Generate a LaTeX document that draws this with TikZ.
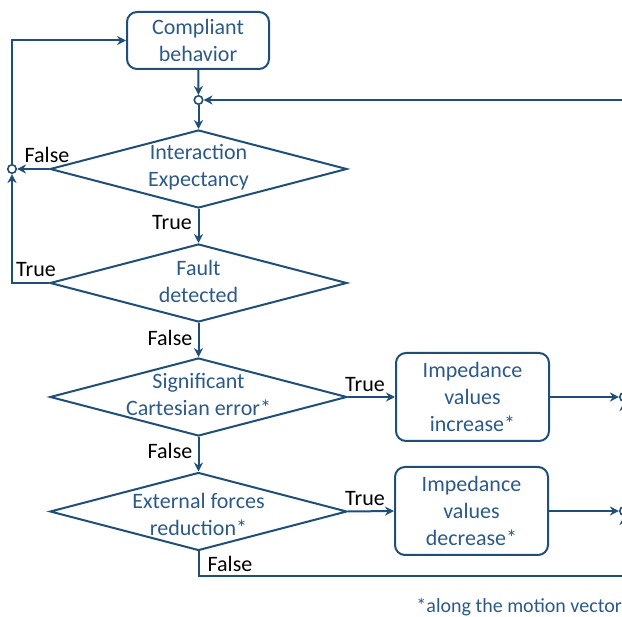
\documentclass[tikz,border=0pt]{standalone}
\usepackage{fontspec}
\setmainfont{Carlito}
\usetikzlibrary{shapes.geometric,arrows.meta}
\definecolor{ln}{HTML}{1F4E79}
\definecolor{tx}{HTML}{2B5A8A}
\begin{document}
\begin{tikzpicture}[x=1pt,y=-1pt,
  every node/.style={font=\fontsize{22}{27}\selectfont},
  conn/.style={draw=ln,line width=2pt,-{Stealth[length=9pt,width=9pt]}},
  plain/.style={draw=ln,line width=2pt},
  procbox/.style={draw=ln,line width=2pt,rounded corners=10pt,minimum width=#1,align=center,text=tx,inner sep=0pt},
  dia/.style={diamond,draw=ln,line width=2pt,minimum width=297pt,minimum height=78pt,inner sep=0pt},
  diatext/.style={align=center,text=tx,inner sep=0pt},
  junc/.style={circle,draw=ln,line width=1.6pt,fill=white,minimum size=8.5pt,inner sep=0pt},
  lbl/.style={text=black,inner sep=0pt}]
\useasboundingbox (0,0) rectangle (622,617);
\clip (0,0) rectangle (622,617);
% boxes
\node[procbox=142pt,minimum height=57pt] (cb) at (198,40.5) {Compliant\\behavior};
\node[procbox=153pt,minimum height=88pt] (b2) at (472.5,397) {Impedance\\values\\increase*};
\node[procbox=153pt,minimum height=88pt] (b3) at (471.5,511) {Impedance\\values\\decrease*};
% diamonds
\node[dia] (d1) at (198.5,169) {};
\node[diatext] (t1) at (198.5,167.5) {Interaction\\Expectancy};
\node[dia] (d2) at (198.5,283) {};
\node[diatext] (t2) at (198.5,281) {Fault\\detected};
\node[dia] (d3) at (198.5,397) {};
\node[diatext] (t3) at (198.5,394.5) {Significant\\Cartesian error*};
\node[dia] (d4) at (198.5,511.5) {};
\node[diatext] (t4) at (198.5,514) {External forces\\reduction*};
% junctions
\node[junc] (j1) at (198.5,100) {};
\node[junc] (j2) at (12,169) {};
\node[junc] (r1) at (624,397) {};
\node[junc] (r2) at (624,511) {};
\coordinate (rin) at (640,100);
\coordinate (rout) at (640,576);
\coordinate (r1b) at (624,440);
\coordinate (r2b) at (624,555);
% connectors
\draw[conn] (cb) -- (j1);
\draw[conn] (rin) -- (j1);
\draw[conn] (j1) -- (d1.north);
\draw[conn] (d1.west) -- (j2);
\draw[conn] (j2) |- (cb.west);
\draw[conn] (d2.west) -| (j2);
\draw[conn] (d1.south) -- (d2.north);
\draw[conn] (d2.south) -- (d3.north);
\draw[conn] (d3.south) -- (d4.north);
\draw[conn] (d3.east) -- (b2.west);
\draw[conn] (d4.east) -- (b3.west);
\draw[conn] (b2.east) -- (r1);
\draw[conn] (b3.east) -- (r2);
\draw[conn] (r1b) -- (r1);
\draw[conn] (r2b) -- (r2);
\draw[plain] (d4.south) |- (rout);
% labels
\node[lbl] (l1) at (47,155) {False};
\node[lbl] (l2) at (36,270) {True};
\node[lbl] (l3) at (172,223) {True};
\node[lbl] (l4) at (170,338) {False};
\node[lbl] (l5) at (365,385) {True};
\node[lbl] (l6) at (170,451) {False};
\node[lbl] (l7) at (365,499) {True};
\node[lbl] (l8) at (230,564) {False};
\node[anchor=east,text=tx,inner sep=0pt,font=\fontsize{20}{24}\selectfont] (fn) at (622,607) {*along the motion vector};
\end{tikzpicture}
\end{document}
